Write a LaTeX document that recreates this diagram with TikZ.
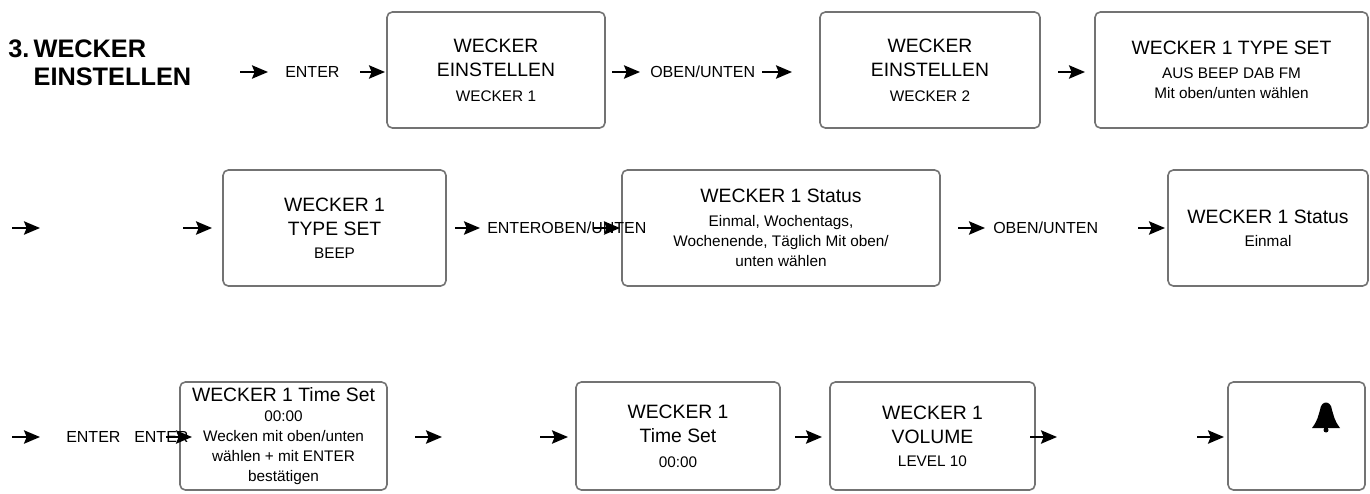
\documentclass[tikz,border=0pt]{standalone}
\usepackage{fontspec}
\setmainfont{Liberation Sans}
\usetikzlibrary{arrows.meta}
\newcommand{\BG}{\fontsize{14.5}{17}\selectfont}
\newcommand{\SM}{\fontsize{11.5}{15}\selectfont}
\begin{document}
\begin{tikzpicture}[x=0.75pt,y=-0.75pt,
  box/.style={draw=black!55,line width=1.2pt,rounded corners=4pt,inner sep=2pt,align=center,font=\SM},
  rowa/.style={box,minimum height=87pt},
  rowc/.style={box,minimum height=81pt},
  arr/.style={line width=1.5pt,-{Stealth[length=12pt,width=10pt,inset=2pt]}},
  lbl/.style={font=\fontsize{12}{14}\selectfont,inner sep=0pt,anchor=west}]
\useasboundingbox (0,0) rectangle (1370,493);
\node[anchor=north west,inner sep=0pt,align=left,font=\bfseries\fontsize{19}{21}\selectfont] (title) at (8,40) {3.\,WECKER\\\hphantom{3.\,}EINSTELLEN};
\node[rowa,minimum width=163.5pt] (b1) at (496,70) {\BG WECKER\\[3pt] \BG EINSTELLEN\\[4pt] WECKER 1};
\node[rowa,minimum width=165pt] (b2) at (930,70) {\BG WECKER\\[3pt] \BG EINSTELLEN\\[4pt] WECKER 2};
\node[rowa,minimum width=204.75pt] (b3) at (1231.5,70) {\BG WECKER 1 TYPE SET\\[3pt] AUS BEEP DAB FM\\ Mit oben/unten wählen};
\node[rowa,minimum width=167.25pt] (b4) at (334.5,228) {\BG WECKER 1\\[3pt] \BG TYPE SET\\[2pt] BEEP};
\node[rowa,minimum width=238.5pt] (b5) at (781,228) {\BG WECKER 1 Status\\[3pt] Einmal, Wochentags,\\ Wochenende, Täglich Mit oben/\\ unten wählen};
\node[rowa,minimum width=150pt] (b6) at (1268,228) {\BG WECKER 1 Status\\[2pt] Einmal};
\node[rowc,minimum width=155.25pt] (b7) at (283.5,436) {\BG WECKER 1 Time Set\\ 00:00\\ Wecken mit oben/unten\\ wählen + mit ENTER\\ bestätigen};
\node[rowc,minimum width=153pt] (b8) at (678,436) {\BG WECKER 1\\[3pt] \BG Time Set\\[4pt] 00:00};
\node[rowc,minimum width=153.75pt] (b9) at (932.5,436) {\BG WECKER 1\\[3pt] \BG VOLUME\\[2pt] LEVEL 10};
\node[rowc,minimum width=102.75pt] (b10) at (1296.5,436) {};
\fill (1312,428) .. controls (1318,420) and (1318,416) .. (1320,410) .. controls (1321,400) and (1331,400) .. (1332,410) .. controls (1334,416) and (1334,420) .. (1340,428) -- cycle;
\fill (1326,430) circle (2.5);
\node[lbl] (l1) at (285,72) {ENTER};
\node[lbl] (l2) at (650,72) {OBEN/UNTEN};
\node[lbl] (l3) at (487,228) {ENTEROBEN/UNTEN};
\node[lbl] (l4) at (993,228) {OBEN/UNTEN};
\node[lbl] (l5) at (66,437) {ENTER};
\node[lbl] (l6) at (134,437) {ENTER};
\foreach \a/\b/\y in {240/268/72,360/385/72,612/640/72,762/792/72,1058/1085/72,
  12/40/228,183/212/228,455/480/228,594/620/228,958/985/228,1138/1165/228,
  12/40/437,166/192/437,415/442/437,540/568/437,795/822/437,1030/1057/437,1197/1224/437}
  {\coordinate (s\a-\y) at (\a,\y); \coordinate (e\a-\y) at (\b,\y); \draw[arr] (s\a-\y) -- (e\a-\y);}
\end{tikzpicture}
\end{document}
